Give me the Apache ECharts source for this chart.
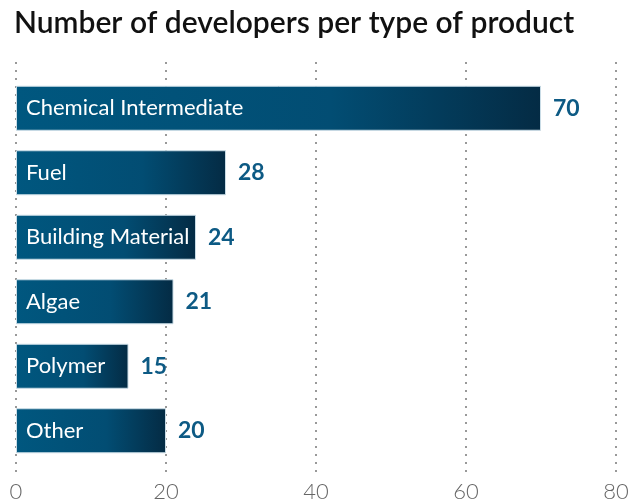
<!DOCTYPE html>
<html><head><meta charset="utf-8">
<script src="https://cdn.jsdelivr.net/npm/echarts@6/dist/echarts.min.js"></script>
<style>html,body{margin:0;padding:0;background:#fff}#c{width:633px;height:503px}</style>
</head><body><div id="c"></div>
<script>
const categories = ["Chemical Intermediate","Fuel","Building Material","Algae","Polymer","Other"];
const values = [70, 28, 24, 21, 15, 20];
const xTicks = [0, 20, 40, 60, 80];

const chart = echarts.init(document.getElementById('c'));
chart.setOption({
  animation: false,
  title: {
    text: 'Number of developers per type of product',
    left: 9, top: 3,
    textStyle: {fontFamily: 'Lato', fontWeight: 600, fontSize: 30, color: '#111'}
  },
  grid: [
    {left: 16, right: 17, top: 76, height: 387},
    {left: 16, right: 17, top: 62, bottom: 23}
  ],
  xAxis: [
    {gridIndex: 0, type: 'value', min: 0, max: 80, interval: 20, show: false},
    {gridIndex: 1, type: 'value', min: xTicks[0], max: xTicks[xTicks.length-1], interval: 20,
     axisLine: {show: false}, axisTick: {show: false},
     splitLine: {show: true, lineStyle: {type: [2, 6], color: '#999', width: 2}},
     axisLabel: {color: '#666', fontFamily: 'Lato', fontWeight: 300, fontSize: 22, margin: 5}}
  ],
  yAxis: [
    {gridIndex: 0, type: 'category', data: categories, inverse: true,
     axisLine: {show: false}, axisTick: {show: false},
     axisLabel: {inside: true, margin: 10, color: '#fff', fontFamily: 'Lato', fontSize: 22, fontWeight: 400},
     z: 10},
    {gridIndex: 1, type: 'value', show: false}
  ],
  series: [{
    type: 'bar', xAxisIndex: 0, yAxisIndex: 0,
    data: values, barWidth: 45,
    itemStyle: {
      color: new echarts.graphic.LinearGradient(0, 0, 1, 0, [
        {offset: 0, color: '#00577f'},
        {offset: 0.6, color: '#024d73'},
        {offset: 1, color: '#042b44'}
      ]),
      borderColor: '#c9dce6', borderWidth: 1
    },
    label: {show: true, position: 'right', distance: 12, color: '#0d5a84',
            fontFamily: 'Lato', fontWeight: 'bold', fontSize: 23}
  }]
});
</script></body></html>
